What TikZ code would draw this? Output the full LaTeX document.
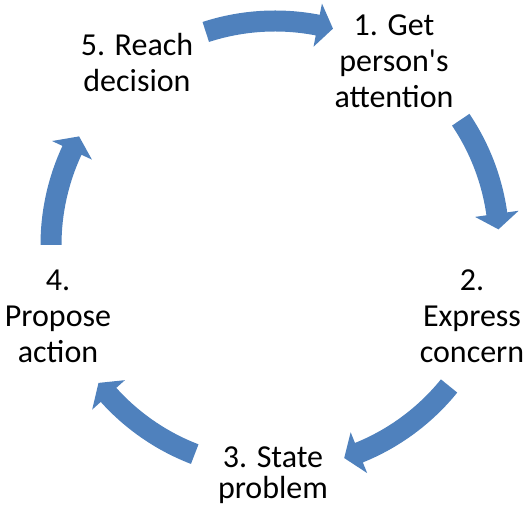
\documentclass[tikz,border=0pt]{standalone}
\usepackage{fontspec}
\setmainfont{Carlito}

\definecolor{cycleblue}{HTML}{4F81BD}

\tikzset{
  steptext/.style={align=center, inner sep=0pt, anchor=base,
    font=\fontsize{32}{36}\selectfont},
  arrowfill/.style={fill=cycleblue},
}

% block arc round (c), from tail angle #1 to tip angle #2
\newcommand{\bluearc}[2]{%
  \pgfmathsetmacro{\headbase}{#2+4}
  \fill[arrowfill, shift={(c)}] (#1:234.5pt) arc[start angle=#1, end angle=\headbase, radius=234.5pt]
    -- (\headbase:246pt) -- (#2:224pt) -- (\headbase:202pt) -- (\headbase:213.5pt)
    arc[start angle=\headbase, end angle=#1, radius=213.5pt] -- cycle;
}

\begin{document}
\begin{tikzpicture}[x=1pt, y=1pt]
\useasboundingbox (0,0) rectangle (529,506);

\coordinate (c) at (275,261);

% base anchor sits on the last line
\node[steptext] (get) at (394,398) {1. Get\\person\textquotesingle s\\attention};
\node[steptext] (express) at (472,144) {2.\\Express\\concern};
\node[steptext, font=\fontsize{32}{31}\selectfont] (state) at (273,8) {3. State\\problem};
\node[steptext] (propose) at (58,144) {4.\\Propose\\action};
\node[steptext] (reach) at (137,414) {5. Reach\\decision};

\bluearc{108}{75}
\bluearc{34}{4}
\bluearc{-39}{-72}
\bluearc{-111}{-142}
\bluearc{180}{151}

\end{tikzpicture}
\end{document}
